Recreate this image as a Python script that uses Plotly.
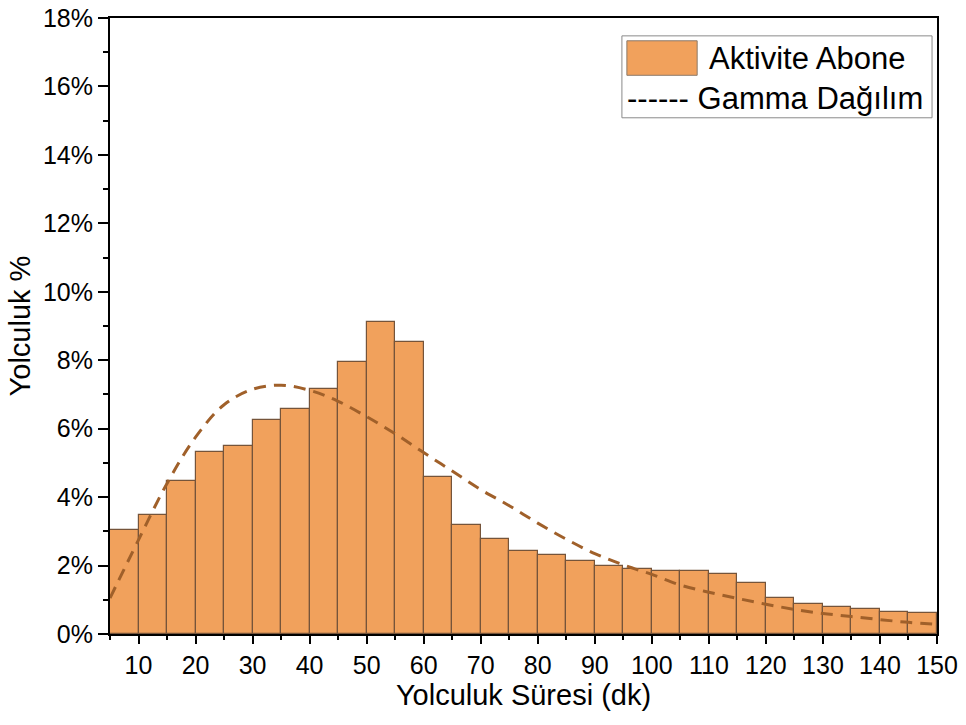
import plotly.graph_objects as go

# Histogram bins (left edges, width 5 min) and trip shares (%)
bin_left = [5, 10, 15, 20, 25, 30, 35, 40, 45, 50, 55, 60, 65, 70, 75,
            80, 85, 90, 95, 100, 105, 110, 115, 120, 125, 130, 135, 140, 145]
share_pct = [3.03, 3.47, 4.46, 5.31, 5.48, 6.25, 6.58, 7.16, 7.96, 9.13, 8.52, 4.58, 3.18, 2.77, 2.42,
             2.32, 2.14, 2.00, 1.89, 1.84, 1.85, 1.75, 1.48, 1.06, 0.87, 0.78, 0.72, 0.63, 0.61]

# Gamma distribution curve
gamma_x = [5, 10, 15, 20, 25, 30, 35, 40, 45, 50, 55, 60, 65, 70, 75, 80, 85, 90,
           95, 100, 105, 110, 115, 120, 125, 130, 135, 140, 145, 150]
gamma_y = [1.05, 2.75, 4.4, 5.75, 6.7, 7.15, 7.27, 7.12, 6.8, 6.35, 5.85, 5.3, 4.76, 4.22, 3.75,
           3.24, 2.77, 2.35, 2.02, 1.74, 1.43, 1.22, 1.04, 0.87, 0.72, 0.60, 0.51, 0.42, 0.34, 0.28]

x_ticks = [10, 20, 30, 40, 50, 60, 70, 80, 90, 100, 110, 120, 130, 140, 150]
y_ticks = [0, 2, 4, 6, 8, 10, 12, 14, 16, 18]
y_tick_labels = [f"{v}%" for v in y_ticks]

FONT = "Arial, Liberation Sans, sans-serif"
BAR_FILL = "#F1A15C"
BAR_LINE = "#75543A"
CURVE = "#A0602A"

fig = go.Figure()
fig.add_trace(go.Bar(
    x=bin_left, y=share_pct, width=5, offset=0,
    marker=dict(color=BAR_FILL, line=dict(color=BAR_LINE, width=1.2)),
    name="Aktivite Abone", showlegend=False,
))
fig.add_trace(go.Scatter(
    x=gamma_x, y=gamma_y, mode="lines",
    line=dict(color=CURVE, width=3, dash="12px,8px", shape="spline"),
    name="Gamma Dağılım", showlegend=False,
))

axis_common = dict(
    showline=True, linecolor="black", linewidth=2, mirror=True,
    ticks="outside", tickcolor="black", tickwidth=2,
    showgrid=False, zeroline=False, automargin=False,
    tickfont=dict(family=FONT, size=25, color="black"),
)

fig.update_xaxes(
    range=[5, 150], tickvals=x_ticks, ticklen=8,
    minor=dict(dtick=5, tick0=5, ticks="outside", ticklen=4, tickwidth=2, tickcolor="black"),
    title=dict(text="Yolculuk Süresi (dk)", font=dict(family=FONT, size=29, color="black"), standoff=2),
    **axis_common,
)
fig.update_yaxes(
    range=[0, 18], tickvals=y_ticks, ticktext=y_tick_labels, ticklen=10,
    minor=dict(dtick=1, tick0=0, ticks="outside", ticklen=5, tickwidth=2, tickcolor="black"),
    title=dict(text="Yolculuk %", font=dict(family=FONT, size=29, color="black"), standoff=4),
    **axis_common,
)

# Custom legend box (paper coordinates)
fig.add_shape(type="rect", xref="paper", yref="paper", x0=0.619, x1=0.994, y0=0.838, y1=0.971,
              line=dict(color="#8a8a8a", width=1), fillcolor="white", layer="above")
fig.add_shape(type="rect", xref="paper", yref="paper", x0=0.625, x1=0.710, y0=0.907, y1=0.963,
              line=dict(color="#8a7a6a", width=1), fillcolor=BAR_FILL, layer="above")
fig.add_annotation(xref="paper", yref="paper", x=0.722, y=0.935, xanchor="left", yanchor="middle",
                   text="Aktivite Abone", showarrow=False,
                   font=dict(family=FONT, size=31, color="black"))
fig.add_annotation(xref="paper", yref="paper", x=0.623, y=0.870, xanchor="left", yanchor="middle",
                   text="------ Gamma Dağılım", showarrow=False,
                   font=dict(family=FONT, size=31, color="black"))

fig.update_layout(
    width=966, height=725,
    margin=dict(l=110, r=29, t=18, b=91),
    paper_bgcolor="white", plot_bgcolor="white",
    bargap=0, showlegend=False,
)

fig.write_html("out.html", config={"displayModeBar": False},
               post_script="document.body.style.margin='0';document.body.style.padding='0';")
